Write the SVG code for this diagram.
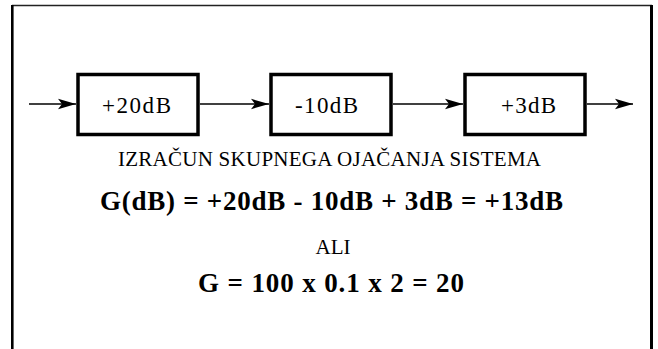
<svg xmlns="http://www.w3.org/2000/svg" width="658" height="349" viewBox="0 0 658 349">
<defs>
<marker id="ah" markerUnits="userSpaceOnUse" markerWidth="19" markerHeight="12" refX="18" refY="6" orient="auto">
<path d="M0,0.8 L18,6 L0,11.2 L4,6 Z" fill="#000"/>
</marker>
<style>
.box{fill:#fff;stroke:#000;stroke-width:3.5}
.conn{stroke:#000;stroke-width:1.6;fill:none;marker-end:url(#ah)}
.bt{font-size:23px}
.t{font-size:21px;text-anchor:middle}
.b{font-size:27px;font-weight:bold;text-anchor:middle}
</style>
</defs>
<rect width="658" height="349" fill="#fff"/>
<g id="frame">
<line x1="12" y1="5.5" x2="652" y2="5.5" stroke="#222" stroke-width="1.6"/>
<line x1="12.3" y1="5" x2="12.3" y2="349" stroke="#000" stroke-width="2.6"/>
<line x1="651.5" y1="5" x2="651.5" y2="349" stroke="#000" stroke-width="3"/>
</g>
<g id="connectors">
<line class="conn" x1="29" y1="104" x2="76" y2="104"/>
<line class="conn" x1="200" y1="104" x2="269" y2="104"/>
<line class="conn" x1="393" y1="104" x2="463" y2="104"/>
<line class="conn" x1="587" y1="104" x2="633" y2="104"/>
</g>
<g font-family="Liberation Serif, DejaVu Serif, serif" fill="#000">
<g id="n1">
<rect class="box" x="78" y="74.5" width="120" height="60"/>
<text class="bt" x="102" y="112.5" textLength="69" lengthAdjust="spacing">+20dB</text>
</g>
<g id="n2">
<rect class="box" x="271" y="74.5" width="120" height="60"/>
<text class="bt" x="295" y="112.5" textLength="63" lengthAdjust="spacing">-10dB</text>
</g>
<g id="n3">
<rect class="box" x="465" y="74.5" width="120" height="60"/>
<text class="bt" x="501" y="112.5" textLength="55" lengthAdjust="spacing">+3dB</text>
</g>
<g id="labels">
<text class="t" x="329.5" y="166" textLength="423" lengthAdjust="spacing">IZRAČUN SKUPNEGA OJAČANJA SISTEMA</text>
<text class="b" x="331.5" y="210" textLength="463" lengthAdjust="spacing">G(dB) = +20dB - 10dB + 3dB = +13dB</text>
<text class="t" x="333" y="254">ALI</text>
<text class="b" x="331" y="292" textLength="266" lengthAdjust="spacing">G = 100 x 0.1 x 2 = 20</text>
</g>
</g>
</svg>
